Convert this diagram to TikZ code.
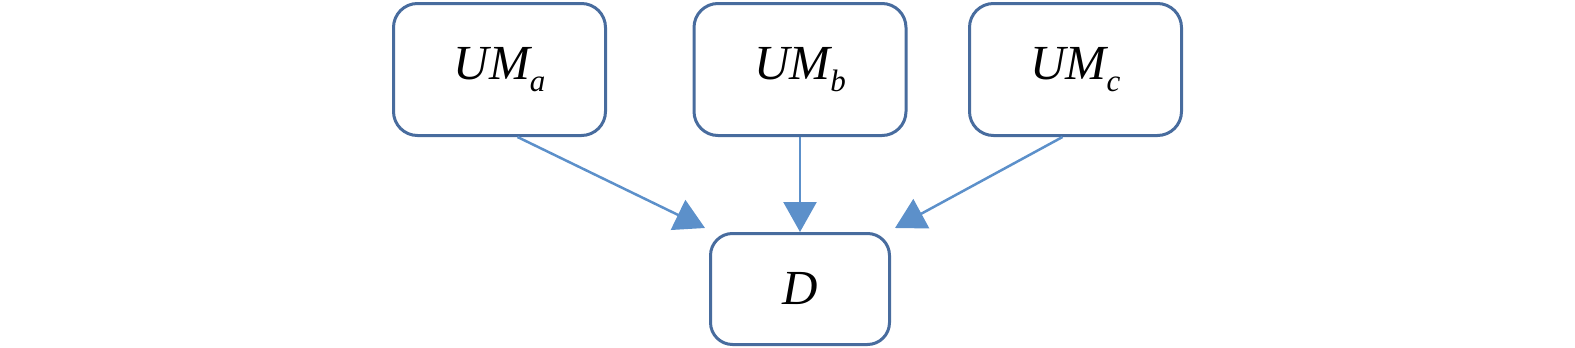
\documentclass[tikz,border=0pt]{standalone}
\usepackage{fontspec}
\setmainfont{Liberation Serif}
\usetikzlibrary{arrows.meta}
\definecolor{boxline}{RGB}{72,108,158}
\definecolor{arrowcol}{RGB}{92,144,202}
\newcommand{\umtext}[1]{\fontsize{49}{49}\selectfont\itshape UM\raisebox{-12pt}{\fontsize{31}{31}\selectfont\itshape #1}}
\begin{document}
\begin{tikzpicture}[x=1pt,y=-1pt,
  umbox/.style={draw=boxline,line width=3pt,rounded corners=24pt,fill=white,
    minimum width=212pt,minimum height=132pt,inner sep=0pt,anchor=center},
  dbox/.style={draw=boxline,line width=3pt,rounded corners=22pt,fill=white,
    minimum width=179pt,minimum height=111pt,inner sep=0pt,anchor=center},
  conn/.style={draw=arrowcol,line width=2.5pt,-{Triangle[width=33pt,length=30pt]},arrowcol}]
\useasboundingbox (0,0) rectangle (1575,348);
\node[umbox] (a) at (499.5,69.5) {\umtext{a}};
\node[umbox] (b) at (800,69.5) {\umtext{b}};
\node[umbox] (c) at (1075.5,69.5) {\umtext{c}};
\node[dbox] (d) at (800,289) {\fontsize{49}{49}\selectfont\itshape D};
\coordinate (ta) at (705,228);
\coordinate (tc) at (895,228);
\draw[conn] ([xshift=18pt]a.south) -- (ta);
\draw[conn] (b.south) -- (d.north);
\draw[conn] ([xshift=-13pt]c.south) -- (tc);
\end{tikzpicture}
\end{document}
